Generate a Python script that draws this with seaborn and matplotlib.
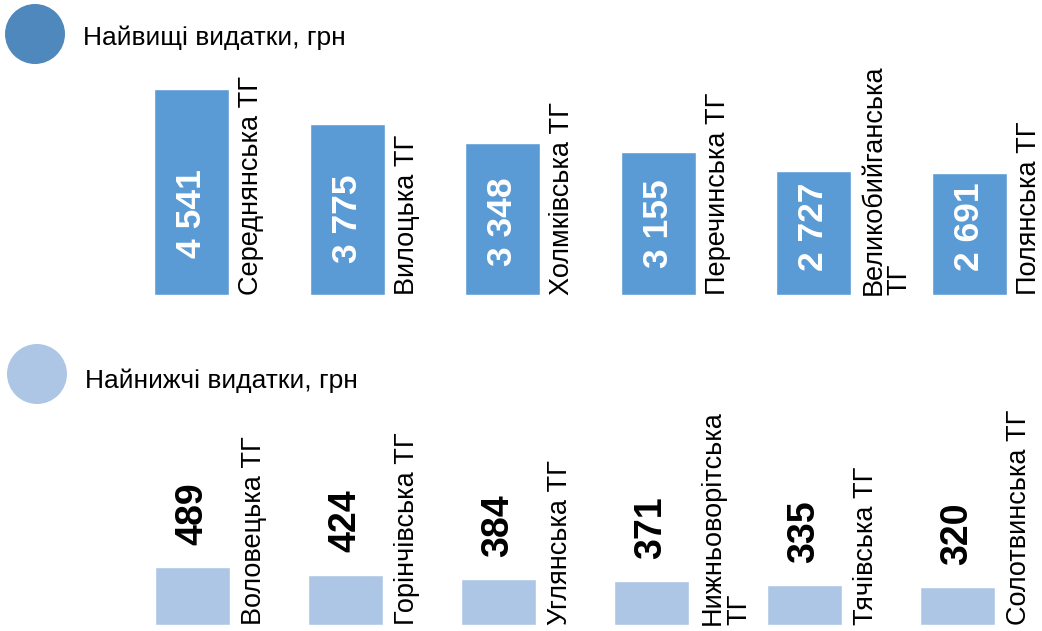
import matplotlib

matplotlib.use("Agg")

import matplotlib.pyplot as plt  # noqa: E402
import seaborn as sns  # noqa: E402
from matplotlib.patches import Circle  # noqa: E402

# --- data ---
top_title = "Найвищі видатки, грн"
top_names = ["Середнянська ТГ", "Вилоцька ТГ", "Холмківська ТГ",
             "Перечинська ТГ", "Великобийганська\nТГ", "Полянська ТГ"]
top_values = [4541, 3775, 3348, 3155, 2727, 2691]

bottom_title = "Найнижчі видатки, грн"
bottom_names = ["Воловецька ТГ", "Горінчівська ТГ", "Углянська ТГ",
                "Нижньоворітська\nТГ", "Тячівська ТГ", "Солотвинська ТГ"]
bottom_values = [489, 424, 384, 371, 335, 320]

TOP_BAR = "#5b9bd5"
TOP_DOT = "#4f88bd"
LOW_BAR = "#adc6e6"

sns.set_style("white")
plt.rcParams["font.family"] = ["Liberation Sans", "DejaVu Sans"]
plt.rcParams["text.color"] = "black"

W, H = 1042, 631
fig = plt.figure(figsize=(W / 100, H / 100), dpi=100)


def fmt(v):
    return f"{v:,}".replace(",", " ")


def panel(rect, names, values, color, xlim, ylim, width, pad):
    ax = fig.add_axes(rect)
    sns.barplot(x=names, y=values, color=color, saturation=1, width=width, ax=ax)
    ax.set_xlim(*xlim)
    ax.set_ylim(*ylim)
    ax.set_axis_off()
    for i, name in enumerate(names):
        ax.annotate(name, xy=(i + width / 2, 0), xytext=(pad, 0),
                    textcoords="offset points", rotation=90, ha="left",
                    va="bottom", fontsize=19.5, linespacing=1.0,
                    multialignment="left")
    return ax


# top panel: baseline at 295 px, 206 px for 4541
ax_top = panel([0, (H - 295) / H, 1, 235 / H], top_names, top_values, TOP_BAR,
               (-1.231, 5.466), (0, 235 / (206 / 4541)), 0.482, 6.5)
for i, v in enumerate(top_values):
    ax_top.annotate(fmt(v), xy=(i, v * 0.16), xytext=(0, 35),
                    textcoords="offset points", rotation=90, ha="center",
                    va="center", fontsize=25.5, fontweight="bold", color="white")

# bottom panel: baseline at 625 px, 58 px for 489
ax_low = panel([0, (H - 625) / H, 1, 185 / H], bottom_names, bottom_values, LOW_BAR,
               (-1.258, 5.552), (0, 185 / (58 / 489)), 0.49, 8)
for i, v in enumerate(bottom_values):
    ax_low.annotate(fmt(v), xy=(i, v), xytext=(0, 16),
                    textcoords="offset points", rotation=90, ha="center",
                    va="bottom", fontsize=27, fontweight="bold", color="black")

# overlay for legend dots and titles
ov = fig.add_axes([0, 0, 1, 1])
ov.set_xlim(0, W)
ov.set_ylim(H, 0)
ov.set_axis_off()
ov.patch.set_alpha(0)
ov.add_patch(Circle((35, 34), 30, color=TOP_DOT, lw=0))
ov.add_patch(Circle((37, 374), 30, color=LOW_BAR, lw=0))
ov.text(83, 38, top_title, ha="left", va="center", fontsize=19)
ov.text(85, 381, bottom_title, ha="left", va="center", fontsize=19)

fig.savefig("out.png", dpi=100)
plt.close(fig)
